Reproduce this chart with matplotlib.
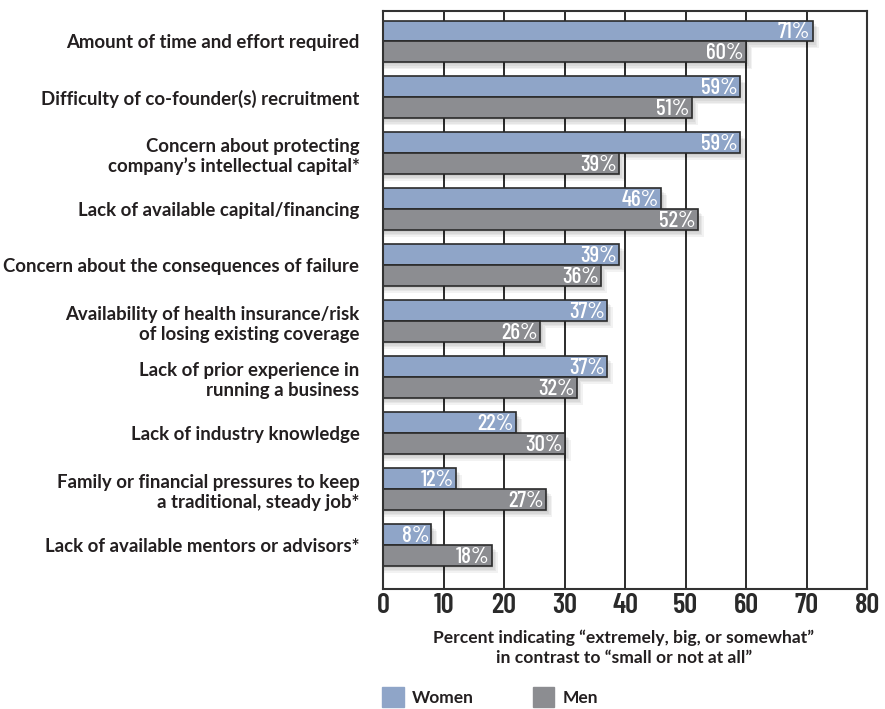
import numpy as np
import matplotlib.pyplot as plt
from matplotlib.patches import Patch

categories = [
    "Amount of time and effort required",
    "Difficulty of co-founder(s) recruitment",
    "Concern about protecting\ncompany\u2019s intellectual capital*",
    "Lack of available capital/financing",
    "Concern about the consequences of failure",
    "Availability of health insurance/risk\nof losing existing coverage",
    "Lack of prior experience in\nrunning a business",
    "Lack of industry knowledge",
    "Family or financial pressures to keep\na traditional, steady job*",
    "Lack of available mentors or advisors*",
]
women = [71, 59, 59, 46, 39, 37, 37, 22, 12, 8]
men = [60, 51, 39, 52, 36, 26, 32, 30, 27, 18]
xticks = [0, 10, 20, 30, 40, 50, 60, 70, 80]

women_color = '#8fa5c8'
men_color = '#8c8d91'
text_color = '#231f20'
label_font = ['Lato', 'DejaVu Sans']
num_font = ['Barlow Condensed', 'Liberation Sans Narrow', 'DejaVu Sans']

fig = plt.figure(figsize=(8.85, 7.09), dpi=100)
ax = fig.add_axes([0.4328, 0.1693, 0.9797 - 0.4328, 0.9845 - 0.1693])

y = np.arange(len(categories))
h = 0.375
off = h / 2

# gridlines behind everything
for t in xticks[1:-1]:
    ax.axvline(t, color='#1a1a1a', lw=1.3, zorder=0)

# soft drop shadows
for k in range(4):
    d = 0.25 + k * 0.25
    ax.barh(y - off + 0.03 * (k + 1), np.array(women) + d, height=h, color='black',
            alpha=0.05, zorder=1, lw=0)
    ax.barh(y + off + 0.03 * (k + 1), np.array(men) + d, height=h, color='black',
            alpha=0.05, zorder=1, lw=0)

bw = ax.barh(y - off, women, height=h, color=women_color, edgecolor='#2b2b2b',
             lw=1.2, zorder=2)
bm = ax.barh(y + off, men, height=h, color=men_color, edgecolor='#2b2b2b',
             lw=1.2, zorder=2)

for bars, vals in [(bw, women), (bm, men)]:
    for b, v in zip(bars, vals):
        ax.text(v - 0.35, b.get_y() + b.get_height() / 2 + 0.02, f"{v}%",
                ha='right', va='center', color='white', fontsize=16.5,
                family=num_font, fontweight='medium', zorder=3)

ax.set_xlim(0, 80)
ax.set_ylim(9.78, -0.545)
ax.set_xticks(xticks)
ax.set_xticklabels([str(t) for t in xticks], family=num_font, fontsize=20.5,
                   fontweight='semibold', color='#2a2a2a')
ax.set_yticks(y)
ax.set_yticklabels(categories, family=label_font, fontsize=13.4,
                   fontweight='bold', color=text_color, linespacing=1.2)
ax.tick_params(axis='both', length=0)
ax.tick_params(axis='y', pad=17)
ax.tick_params(axis='x', pad=3)
for s in ax.spines.values():
    s.set_color('#333333')
    s.set_linewidth(1.5)

fig.text(0.705, 0.0867, "Percent indicating \u201cextremely, big, or somewhat\u201d\nin contrast to \u201csmall or not at all\u201d",
         ha='center', va='center', family=label_font, fontsize=12.6,
         fontweight='bold', color=text_color, linespacing=1.3)

handles = [Patch(color=women_color, label='Women'),
           Patch(color=men_color, label='Men')]
fig.legend(handles=handles, loc='center left', bbox_to_anchor=(0.432, 0.017),
           ncol=2, frameon=False, handlelength=1.25, handleheight=1.35,
           columnspacing=3.4, handletextpad=0.45, borderpad=0, borderaxespad=0,
           prop={'family': label_font, 'size': 12.5, 'weight': 'bold'},
           labelcolor=text_color)

fig.savefig('out.png', dpi=100)
